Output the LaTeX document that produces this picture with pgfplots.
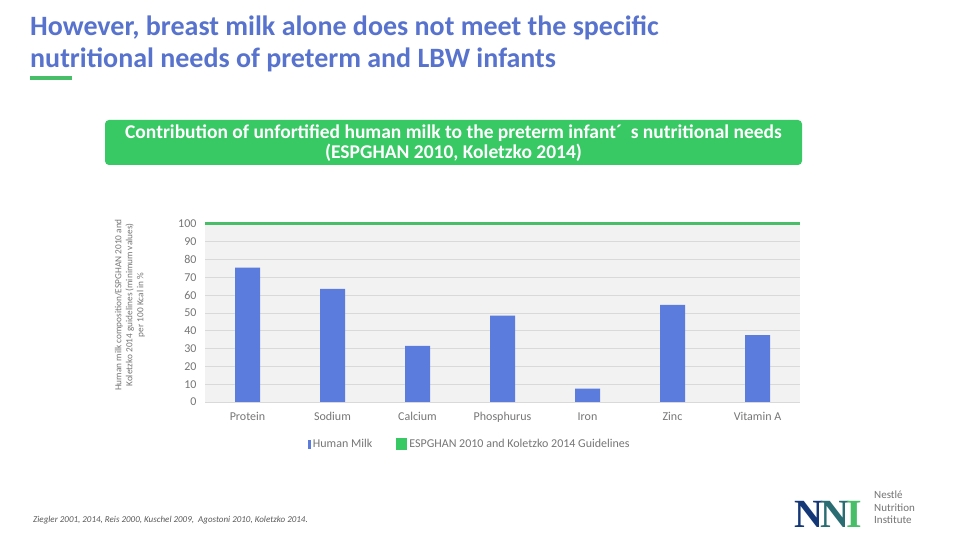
\documentclass[border=0pt]{standalone}
\usepackage{pgfplots}
\pgfplotsset{compat=1.18}
\usepackage{fontspec}
\setmainfont{Carlito}
\newfontfamily\logofont{Liberation Serif}
\definecolor{barblue}{RGB}{91,124,220}
\definecolor{titleblue}{RGB}{88,115,205}
\definecolor{linegreen}{RGB}{72,190,105}
\definecolor{boxgreen}{RGB}{56,200,100}
\definecolor{tickgray}{RGB}{118,118,118}
\definecolor{navy}{RGB}{20,55,120}
\begin{document}
\begin{tikzpicture}[x=1pt,y=1pt]
\fill[white] (0,0) rectangle (960,540);
% title
\node[anchor=north west, align=left, text=titleblue, inner sep=0pt,
      font=\fontsize{28}{32}\selectfont\bfseries] at (30,524)
  {However, breast milk alone does not meet the specific\\nutritional needs of preterm and LBW infants};
\fill[linegreen] (30,460) rectangle (72,464);
% green box
\fill[boxgreen, rounded corners=4pt] (105,375) rectangle (802,420);
\node[text=white, align=center, inner sep=0pt, font=\bfseries\fontsize{19.5}{20}\selectfont] at (453.5,397)
  {Contribution of unfortified human milk to the preterm infant´\ \ s nutritional needs\\(ESPGHAN 2010, Koletzko 2014)};
% y label
\node[rotate=90, align=center, text=tickgray, inner sep=0pt, font=\fontsize{9.3}{11}\selectfont] at (130,235)
  {Human milk composition/ESPGHAN 2010 and\\Koletzko 2014 guidelines (minimum values)\\per 100 Kcal in \%};
\begin{axis}[at={(205pt,138pt)}, anchor=south west, scale only axis,
  width=595pt, height=178pt,
  xmin=-0.5, xmax=6.5, ymin=0, ymax=100,
  ytick={0,10,...,100}, xtick={0,...,6},
  xticklabels={Protein,Sodium,Calcium,Phosphurus,Iron,Zinc,Vitamin A},
  /pgf/number format/assume math mode=true,
  axis line style={draw=none}, major tick length=0pt,
  ymajorgrids, grid style={draw=black!15, line width=0.6pt},
  axis background/.style={fill=black!5},
  tick label style={text=tickgray, font=\fontsize{12}{14}\selectfont},
  yticklabel style={xshift=-5pt},
  xticklabel style={yshift=-7pt},
  clip=false,
  legend style={at={(0.445,-0.236)}, anchor=center, draw=none, fill=none,
     legend columns=2, font=\fontsize{12}{14}\selectfont, text=tickgray,
     /tikz/every even column/.append style={column sep=22pt}},
]
\addplot[ybar, bar width=25pt, fill=barblue, draw=none,
  legend image code/.code={\fill[barblue] (2pt,-4.5pt) rectangle (5pt,4.5pt);}]
  coordinates {(0,75.5) (1,63.5) (2,31.5) (3,48.5) (4,7.5) (5,54.5) (6,37.5)};
\addlegendentry{Human Milk}
\addplot[draw=linegreen, line width=3pt,
  legend image code/.code={\fill[boxgreen] (0pt,-4.5pt) rectangle (8pt,4.5pt);}]
  coordinates {(-0.5,100) (6.5,100)};
\addlegendentry{ESPGHAN 2010 and Koletzko 2014 Guidelines}
\end{axis}
% footer
\node[anchor=west, inner sep=0pt, text=black!65, font=\itshape\fontsize{9}{10}\selectfont] at (33,20)
  {Ziegler 2001, 2014, Reis 2000, Kuschel 2009,\ \ Agostoni 2010, Koletzko 2014.};
% logo
\node[anchor=south west, inner sep=0pt, font=\logofont\bfseries\fontsize{40}{40}\selectfont] at (794,12)
  {\textcolor{navy}{N}\kern-3pt\textcolor{navy!60!linegreen}{N}\kern-2pt\textcolor{linegreen}{I}};
\node[anchor=north west, align=left, inner sep=0pt, text=black!55, font=\fontsize{11}{12.5}\selectfont] at (874,49)
  {Nestlé\\Nutrition\\Institute};
\end{tikzpicture}
\end{document}
